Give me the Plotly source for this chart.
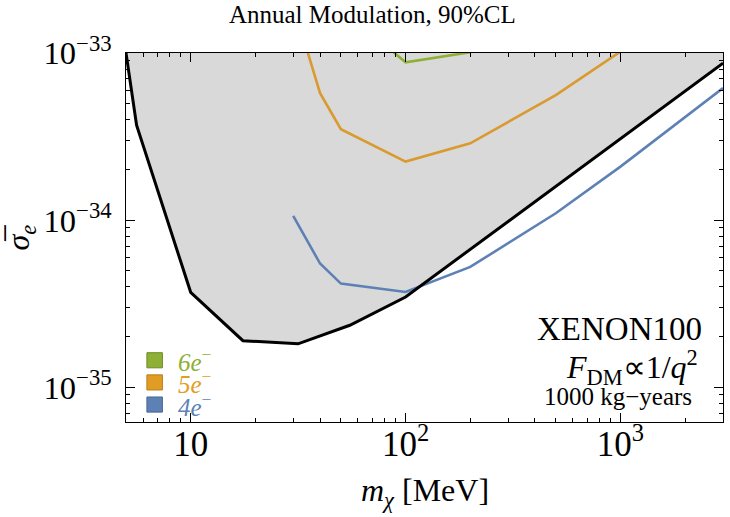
import plotly.graph_objects as go

# ---------------- data ----------------
X_RANGE = [5, 3000]          # MeV
Y_RANGE = [6.2e-36, 1e-33]

bound_m = [5, 5.6, 10, 17.5, 31.6, 55, 100, 200, 500, 1000, 3000]
bound_sig = [1.0e-33, 3.7e-34, 3.7e-35, 1.9e-35, 1.82e-35, 2.35e-35,
             3.47e-35, 6.7e-35, 1.6e-34, 3.08e-34, 8.7e-34]

e4_m = [30, 40, 50, 100, 200, 500, 1000, 3000]
e4_sig = [1.06e-34, 5.5e-35, 4.17e-35, 3.72e-35, 5.25e-35, 1.1e-34, 2.09e-34, 6.17e-34]

e5_m = [30, 40, 50, 100, 200, 500, 1000]
e5_sig = [1.95e-33, 5.75e-34, 3.5e-34, 2.24e-34, 2.88e-34, 5.6e-34, 1.02e-33]

e6_m = [80, 100, 200]
e6_sig = [1.12e-33, 8.8e-34, 1.01e-33]

legend_labels = ["<i>6e</i><sup>−</sup>", "<i>5e</i><sup>−</sup>", "<i>4e</i><sup>−</sup>"]
legend_colors = ["#8DB035", "#E19C24", "#5E81B5"]
legend_edges = ["#6F8C28", "#B87E1A", "#4A6894"]

GREEN, ORANGE, BLUE = "#8FB032", "#D99A2F", "#5E81B5"
FILL = "#D9D9D9"
FONT = "Liberation Serif"

fig = go.Figure()

# gray excluded region: boundary closed along the top edge of the frame
fig.add_trace(go.Scatter(
    x=bound_m + [X_RANGE[1], X_RANGE[0]],
    y=bound_sig + [Y_RANGE[1], Y_RANGE[1]],
    fill="toself", fillcolor=FILL, mode="none", hoverinfo="skip",
    showlegend=False))

for xs, ys, c in [(e6_m, e6_sig, GREEN), (e5_m, e5_sig, ORANGE), (e4_m, e4_sig, BLUE)]:
    fig.add_trace(go.Scatter(x=xs, y=ys, mode="lines",
                             line=dict(color=c, width=2.6), showlegend=False))

fig.add_trace(go.Scatter(x=bound_m, y=bound_sig, mode="lines",
                         line=dict(color="black", width=3), showlegend=False))

axis_common = dict(
    type="log", showgrid=False, zeroline=False, showline=True,
    linecolor="black", linewidth=1.2, mirror="allticks",
    ticks="inside", ticklen=9, tickwidth=1, tickcolor="black",
    dtick=1, exponentformat="power",
    minor=dict(ticks="inside", ticklen=4, tickwidth=1, tickcolor="black",
               dtick="D1", showgrid=False),
)

fig.update_xaxes(range=[0.69897, 3.4771], ticklabelstandoff=-8,
                 tickfont=dict(family=FONT, size=28, color="black"), **axis_common)
fig.update_yaxes(range=[-35.2076, -33.0], ticklabelstandoff=8,
                 tickfont=dict(family=FONT, size=26, color="black"), **axis_common)

# legend (drawn as squares + coloured labels)
for i, (lab, col, edge) in enumerate(zip(legend_labels, legend_colors, legend_edges)):
    yc = 0.1673 - i * 0.0600
    fig.add_shape(type="rect", xref="x domain", yref="y domain",
                  x0=0.035, x1=0.061, y0=yc - 0.0205, y1=yc + 0.0205,
                  fillcolor=col, line=dict(color=edge, width=1))
    fig.add_annotation(xref="x domain", yref="y domain", x=0.084, y=yc,
                       xanchor="left", yanchor="middle", showarrow=False,
                       text=lab, font=dict(family=FONT, size=25, color=col))

# annotations on the right
fig.add_annotation(xref="x domain", yref="y domain", x=0.968, y=0.252,
                   xanchor="right", yanchor="middle", showarrow=False,
                   text="XENON100", font=dict(family=FONT, size=33, color="black"))
fig.add_annotation(xref="x domain", yref="y domain", x=0.962, y=0.148,
                   xanchor="right", yanchor="middle", showarrow=False,
                   text="<i>F</i><sub>DM</sub>∝1/<i>q</i><sup>2</sup>",
                   font=dict(family=FONT, size=32, color="black"))
fig.add_annotation(xref="x domain", yref="y domain", x=0.952, y=0.068,
                   xanchor="right", yanchor="middle", showarrow=False,
                   text="1000 kg−years", font=dict(family=FONT, size=25, color="black"))

# axis titles
fig.add_annotation(xref="x domain", yref="paper", x=0.50, y=-0.19,
                   xanchor="center", yanchor="middle", showarrow=False,
                   text="<i>m</i><sub><i>χ</i></sub> [MeV]",
                   font=dict(family=FONT, size=32, color="black"))
fig.add_annotation(xref="paper", yref="y domain", x=-0.176, y=0.5,
                   xanchor="center", yanchor="middle", showarrow=False, textangle=-90,
                   text="<i>σ̅</i><sub><i>e</i></sub>",
                   font=dict(family=FONT, size=32, color="black"))

fig.update_layout(
    width=730, height=517,
    margin=dict(l=126, r=7, t=53, b=95, pad=0),
    paper_bgcolor="white", plot_bgcolor="white",
    title=dict(text="Annual Modulation, 90%CL", xref="container", yref="container",
               x=0.51, y=0.972, xanchor="center", yanchor="middle",
               font=dict(family=FONT, size=25, color="black")),
    showlegend=False,
)

fig.write_html("out.html")
